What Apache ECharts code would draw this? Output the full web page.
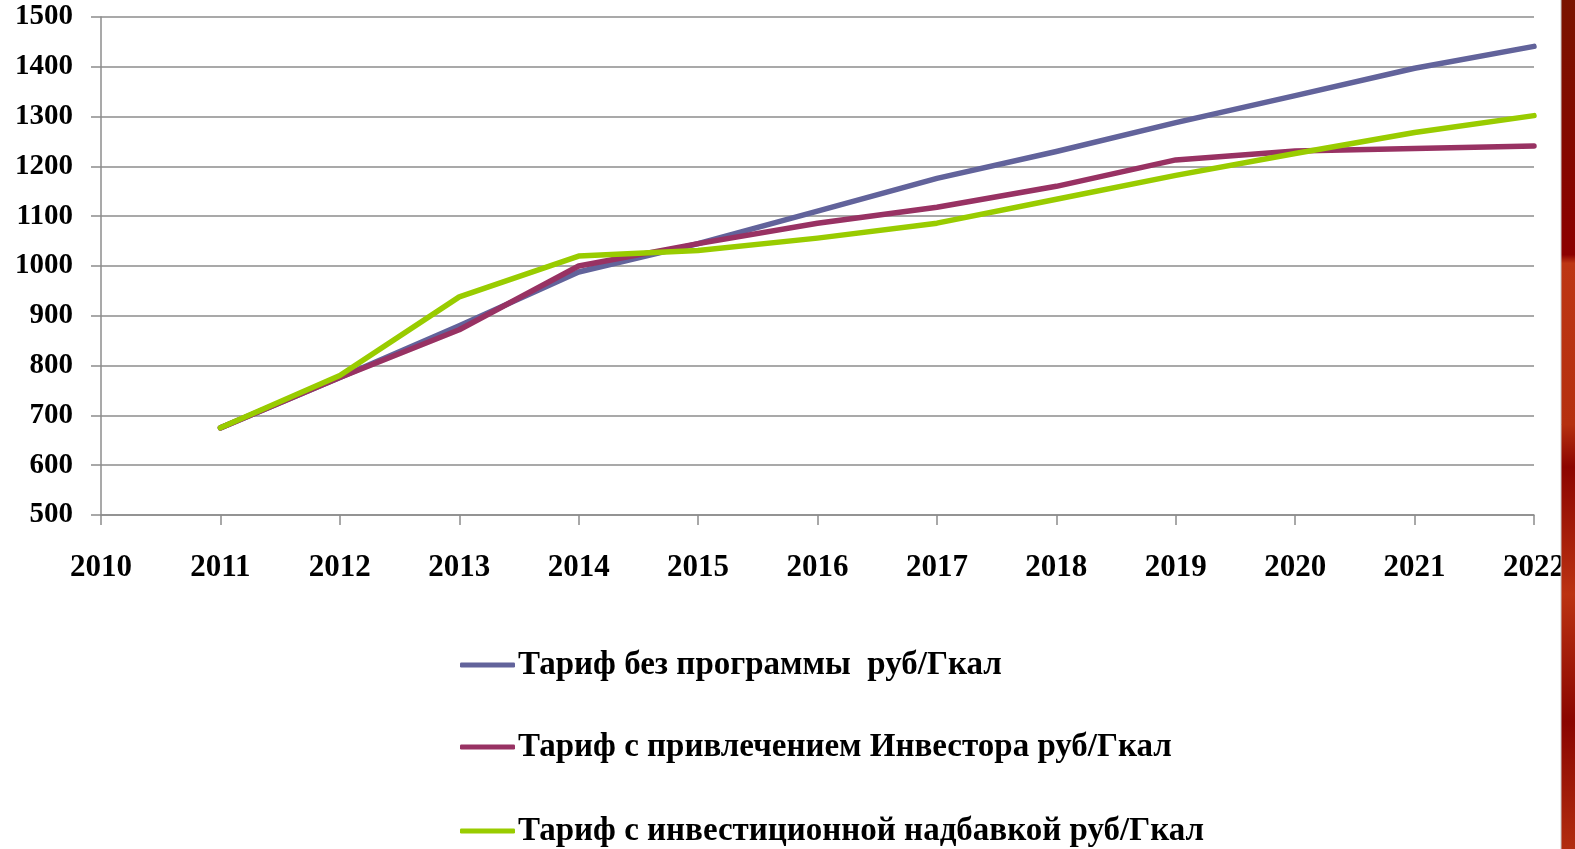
<!DOCTYPE html>
<html>
<head>
<meta charset="utf-8">
<script src="https://cdn.jsdelivr.net/npm/echarts@6/dist/echarts.min.js"></script>
<style>
  html, body { margin: 0; padding: 0; background: #ffffff; }
  #chart { width: 1575px; height: 849px; }
</style>
</head>
<body>
<div id="chart"></div>
<script>
// Years on the horizontal axis
const years = [2011, 2012, 2013, 2014, 2015, 2016, 2017, 2018, 2019, 2020, 2021, 2022];

// Tariffs, rub/Gcal
const tariffNoProgram = [675, 776, 880, 988, 1045, 1110, 1176, 1230, 1288, 1342, 1397, 1441];
const tariffInvestor  = [675, 776, 872, 1000, 1045, 1086, 1118, 1160, 1213, 1231, 1236, 1241];
const tariffSurcharge = [675, 780, 938, 1020, 1031, 1056, 1086, 1134, 1182, 1226, 1268, 1302];

const seriesNames = [
  'Тариф без программы  руб/Гкал',
  'Тариф с привлечением Инвестора руб/Гкал',
  'Тариф с инвестиционной надбавкой руб/Гкал'
];
const seriesColors = ['#62639b', '#983263', '#99cc00'];

const toPairs = vals => years.map((y, i) => [y, vals[i]]);

const chart = echarts.init(document.getElementById('chart'), null, { renderer: 'canvas' });

const fontFamily = '"Liberation Serif", "Times New Roman", serif';

// One legend block per series, stacked vertically under the plot
const legendTops = [641, 723, 807];
const legends = seriesNames.map((name, i) => ({
  orient: 'vertical',
  left: 455,
  top: legendTops[i],
  itemWidth: 55,
  itemHeight: 5,
  icon: 'roundRect',
  textStyle: {
    color: '#000000',
    fontFamily: fontFamily,
    fontWeight: 'bold',
    fontSize: 33,
    lineHeight: 38,
    padding: [0, 0, 0, -2]
  },
  data: [name]
}));

chart.setOption({
  backgroundColor: '#ffffff',
  animation: false,
  grid: { left: 101, right: 41, top: 17, bottom: 334, containLabel: false },
  xAxis: {
    type: 'value',
    min: 2010,
    max: 2022,
    interval: 1,
    axisLine: { show: true, lineStyle: { color: '#8c8c8c', width: 1.5 } },
    axisTick: { show: true, length: 10, inside: false, lineStyle: { color: '#8c8c8c', width: 1.5 } },
    splitLine: { show: false },
    axisLabel: {
      margin: 37,
      color: '#000000',
      fontFamily: fontFamily,
      fontWeight: 'bold',
      fontSize: 31,
      formatter: v => String(v),
      showMaxLabel: true,
      showMinLabel: true
    }
  },
  yAxis: {
    type: 'value',
    min: 500,
    max: 1500,
    interval: 100,
    axisLine: { show: true, lineStyle: { color: '#8c8c8c', width: 1.5 } },
    axisTick: { show: true, length: 10, inside: false, lineStyle: { color: '#8c8c8c', width: 1.5 } },
    splitLine: { show: true, lineStyle: { color: '#8c8c8c', width: 1.5 } },
    axisLabel: {
      margin: 28,
      color: '#000000',
      fontFamily: fontFamily,
      fontWeight: 'bold',
      fontSize: 29,
      formatter: v => String(v)
    }
  },
  legend: legends,
  series: [tariffNoProgram, tariffInvestor, tariffSurcharge].map((vals, i) => ({
    name: seriesNames[i],
    type: 'line',
    data: toPairs(vals),
    symbol: 'none',
    lineStyle: { color: seriesColors[i], width: 5.5, cap: 'round', join: 'round' },
    itemStyle: { color: seriesColors[i] },
    z: 3 + (i === 2 ? 1 : 0)
  })),
  graphic: [
    {
      type: 'rect',
      left: 1561,
      top: 0,
      z: 100,
      shape: { width: 14, height: 849 },
      style: {
        fill: {
          type: 'linear', x: 0, y: 0, x2: 0, y2: 1,
          colorStops: [
            { offset: 0, color: '#7a1400' },
            { offset: 0.3, color: '#8c0000' },
            { offset: 0.31, color: '#bd3614' },
            { offset: 0.5, color: '#b5300f' },
            { offset: 0.55, color: '#8c0500' },
            { offset: 0.7, color: '#bb3312' },
            { offset: 0.85, color: '#8a0500' },
            { offset: 1, color: '#b22d10' }
          ]
        }
      }
    },
    {
      type: 'line',
      z: 101,
      shape: { x1: 1561, y1: 0, x2: 1561, y2: 849 },
      style: { stroke: '#c8c8c8', lineWidth: 1 }
    }
  ]
});
</script>
</body>
</html>
